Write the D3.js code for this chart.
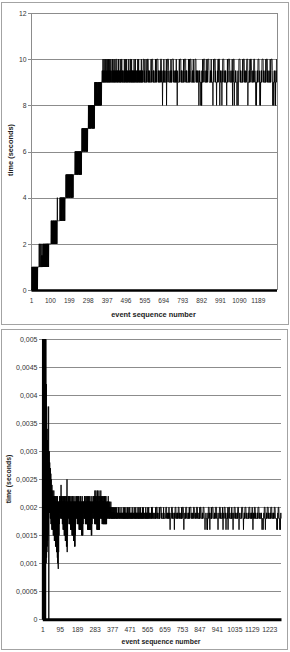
<!DOCTYPE html>
<html><head><meta charset="utf-8">
<script src="https://cdn.jsdelivr.net/npm/d3@7"></script>
<style>body{margin:0;background:#fff}svg{display:block}text{font-family:"Liberation Sans",Arial,sans-serif}</style>
</head><body>
<svg id="c" width="290" height="652"></svg>
<script>
// one character per event; index in CODES = value in units (top: 0.5 s, bottom: 0.0001 s)
const CODES = "0123456789abcdefghijklmnopqrstuvwxyzABCDEFGHIJKLMNOPQRSTUVWXYZ";

const topEventCodes = [
"0000020202","0202120202","0202021202","0202022222","2224222422",
"2342232242","2323424232","4242324242","3424243424","2424444444",
"4444446464","6464546464","6464564646","4646464686","6666666666",
"6686868786","8686878686","8786868688","888a88a8a8","a8a8a9a8a8",
"a8a8a8a9a8","a8a8a8a8aa","a8aaaaaaaa","acacacbcac","acacacacbc",
"acacacacac","acacaccece","cecedecece","cecedecece","cecececeee",
"egegefegeg","egegegegfg","egegegegeg","egegigigig","gigigigigh",
"gigigigigi","gigigigiig","iiijijikij","ijikijijik","ijijkijiji",
"kijijikiji","jikijijiki","iiijijkiji","kijijiijik","ijijikkkij",
"ijijijikij","kiiijijiji","kijijkkiji","jijiiiijik","ijijijkiji",
"ikijijiiij","ijkijijiji","kkijijikij","ijijiijiji","kijijijkij",
"ijiiijijik","ijijkijiji","iijijijiki","jijijiijkk","kkijijikii",
"iiiiijikij","kkkkkijiji","jiiiiiiijk","ijikkkkkji","jijijiiiii",
"iikijkijik","kkkkkkijij","iiiiijijik","kkkkijiiig","iijijikiji",
"iiiiiiijik","gijijkkkkk","kjijiiiiii","ijikijijik","kkkkkkkiji",
"jiiiiiijij","ikijiigiji","iiiiiijkij","kkkkkkijij","ijiiiiiiik",
"ijijkkkkkk","kijijijiii","iiiiikijij","kijikkkkkj","iiiiiijiji",
"kijiiiiiik","kkkkkijiji","iiijijiiig","gijijiiiii","gigigjiiik",
"ijijkkkkkk","kijiiiiiij","ikijijkkkk","kkjiiiiiii","jijikijiii",
"iiigiijkij","kkkkkkijii","iigiiiijij","kijkkkkkig","iiijijiiii",
"gijikkkkkk","kijiiiiiji","jiiiigiiik","ijijkkkkkk","kjijiiiiii",
"iijikigiji","kkkkkgiiii","ijijiiiiig","iiiijgiiik","kkkkkkijij",
"iiiiiiijik","ijkkkkkkij","iiiiijijij","kkkkkkgiii","iiijijikij",
"kkkkkjiiii","iijijijkkk","kkijiiiigi","igiiijijik","kkkkkijiig",
"iigiiijiji","kkkkkkkiji","iiiiiijiji","kijkkkkkki","jijiiiiiii",
"ijikijijkk","kkkkjiigig","iiiijiijig","igiijik"];

const bottomEventCodes = [
"0Z0Z0Z0Z0Z","0Z0Z0Z0Z0Z","LaGbCcydwe","ufsgC0sjuj","sjqiriqhph",
"ngohmgngmf","mfnfmemele","mdldmdlcmc","lbmala9lcl","flhmjljmil",
"joimilimhl","hmglgmglfm","flfmelemel","dmdpclflhm","jlimimhlhm",
"hlglgmglgl","fmflfmflel","emeldldlfl","hmjlimilim","hlhlhmhlgl",
"glgmglgmgl","glflfmflfl","hljlilimil","imhlhlhmhl","hlhmglglgm",
"glglgmglgl","glgmflfkhl","jlimiljmil","imhnhlhmhn","hlhmglgngl",
"gmglgngmgl","ilimjnilim","ilhmilhmhl","hmhlhmhlhm","hlhmhlhkil",
"jlilimjlil","ikilikjkil","ikijikijik","ijikijijik","ijijkijiji",
"kijijiijik","jijkijijii","ijijkijiji","iijijikiji","jikijijiji",
"kijiijijik","ijijijkiji","ikijiijiji","jijikijiji","iijijkijij",
"ijikijijii","jijiikijij","ikijijijki","jijiijijik","ijijkijiji",
"iiijijikij","ijijiijiki","jijkijijii","iiiijijiki","kkkkijijii",
"iiiiiijiji","kijikkkkki","jiiiiiiiji","kijijkkkkk","kjijiiiiii",
"ijikijiiii","iiiijkkkkk","ijijiiiiii","jikijiiigi","iiijijkkkk",
"kijiiiiiij","igijikkkkk","ijiiiiiiji","jikkkkkiji","iiiiiijiji",
"kijikkkkkk","jigiiiiiji","jikkkkkkij","iiiiiiijij","ikijkkkkkk",
"kijiiiiiii","jijikkkkkj","iiiiiijiji","kkkkkkijii","iiiijijiki",
"kkkkkjiiii","iijijikkkk","kjiiiigiii","ijiiiiigig","iijikkkkki",
"jigiiiiiji","kijikkkkkk","jiiiiiiiji","jikkkkkkki","jiiiiigiii",
"ijijkkkkki","jiiiiiiiji","kiigiiijik","kkkkkijiig","iiiiijijik",
"giijkkkkki","jiiiiiiiji","kijiiiigii","ijikkkkkki","jiiiiiiiji",
"jikkkkkiig","iiijiiiiii","ijikkkkkkj","iiigiiijij","ikkkkkkiji",
"iiiiiiiiji","jikkkkkkij","iiiiiijiji","kiiigiiiji","jikkkkkiji",
"iiiiiiijij","ikkkkkkiji","iiiiiiijij","iiigiiiiig","iiijikkkkk",
"igiiiiijij","ikkkkkkiji","iiiiiijiji","kkkkkkijii","iiiiijijik",
"kkkkjiiiii","iiigigiiji","kkkkjiiiig","igiiji"];

const topYTicks = [0, 2, 4, 6, 8, 10, 12];
const topYLabels = ["0", "2", "4", "6", "8", "10", "12"];
const topXTicks = [1, 100, 199, 298, 397, 496, 595, 694, 793, 892, 991, 1090, 1189];

const bottomYTicks = [0, 0.0005, 0.001, 0.0015, 0.002, 0.0025, 0.003, 0.0035, 0.004, 0.0045, 0.005];
const bottomYLabels = ["0", "0,0005", "0,001", "0,0015", "0,002", "0,0025", "0,003", "0,0035", "0,004", "0,0045", "0,005"];
const bottomXTicks = [1, 95, 189, 283, 377, 471, 565, 659, 753, 847, 941, 1035, 1129, 1223];

const xTitle = "event sequence number";
const yTitle = "time (seconds)";

function decode(words, unit) {
  return words.join("").split("").map(c => CODES.indexOf(c) * unit);
}
const topValues = decode(topEventCodes, 0.5);
const bottomValues = decode(bottomEventCodes, 0.0001);

const svg = d3.select("#c");

function panel(cfg) {
  const x = d3.scaleLinear().domain([1, cfg.values.length]).range([cfg.left, cfg.right]);
  const y = d3.scaleLinear().domain([0, cfg.yMax]).range([cfg.bottom, cfg.top]);
  const g = svg.append("g");

  g.append("rect")
    .attr("x", cfg.frame[0]).attr("y", cfg.frame[1])
    .attr("width", cfg.frame[2]).attr("height", cfg.frame[3])
    .attr("fill", "none").attr("stroke", "#a3a3a3").attr("stroke-width", 1);

  g.append("g").selectAll("line").data(cfg.yTicks.filter(v => v > 0)).join("line")
    .attr("x1", cfg.left).attr("x2", cfg.right)
    .attr("y1", d => Math.round(y(d)) + 0.5).attr("y2", d => Math.round(y(d)) + 0.5)
    .attr("stroke", "#8c8c8c").attr("stroke-width", 1).attr("shape-rendering", "crispEdges");

  if (cfg.rightBorder) {
    g.append("line").attr("x1", cfg.right + 0.5).attr("x2", cfg.right + 0.5)
      .attr("y1", cfg.top).attr("y2", cfg.bottom)
      .attr("stroke", "#8c8c8c").attr("shape-rendering", "crispEdges");
  }

  const yAxis = g.append("g").attr("transform", `translate(${cfg.left},0)`)
    .call(d3.axisLeft(y).tickValues(cfg.yTicks).tickFormat((d, i) => cfg.yLabels[i])
      .tickSize(3).tickSizeOuter(0).tickPadding(cfg.yPad));
  yAxis.select(".domain").attr("stroke", "#8c8c8c").attr("shape-rendering", "crispEdges");
  yAxis.selectAll(".tick line").attr("stroke", "#8c8c8c").attr("shape-rendering", "crispEdges");
  yAxis.selectAll("text").attr("font-size", cfg.yFont).attr("fill", "#333")
    .attr("font-family", '"Liberation Sans",Arial,sans-serif');

  const clipId = "clip" + cfg.id;
  svg.append("clipPath").attr("id", clipId).append("rect")
    .attr("x", cfg.left - 2).attr("y", cfg.top).attr("width", cfg.right - cfg.left + 4)
    .attr("height", cfg.bottom - cfg.top + 2);

  const line = d3.line().x((d, i) => x(i + 1)).y(d => y(d));
  g.append("path").datum(cfg.values).attr("d", line)
    .attr("clip-path", `url(#${clipId})`)
    .attr("fill", "none").attr("stroke", "#000").attr("stroke-width", cfg.lineWidth)
    .attr("stroke-linejoin", "bevel");

  const xAxis = g.append("g").attr("transform", `translate(0,${cfg.bottom})`)
    .call(d3.axisBottom(x).tickValues(cfg.xTicks).tickFormat(d => String(d))
      .tickSize(0).tickSizeOuter(0).tickPadding(cfg.xPad));
  xAxis.select(".domain").attr("stroke", "#000").attr("stroke-width", cfg.axisWidth);
  xAxis.selectAll("text").attr("font-size", cfg.xFont).attr("fill", "#333")
    .attr("font-family", '"Liberation Sans",Arial,sans-serif');

  g.append("text").attr("x", cfg.xTitlePos[0]).attr("y", cfg.xTitlePos[1])
    .attr("text-anchor", "middle").attr("font-size", cfg.titleFont).attr("font-weight", "bold")
    .attr("fill", "#222").text(xTitle);
  g.append("text").attr("transform", `translate(${cfg.yTitlePos[0]},${cfg.yTitlePos[1]}) rotate(-90)`)
    .attr("text-anchor", "middle").attr("font-size", cfg.titleFont).attr("font-weight", "bold")
    .attr("fill", "#222").text(yTitle);
}

panel({
  id: "top", values: topValues, yMax: 12,
  left: 31, right: 276.5, top: 13, bottom: 290,
  frame: [1.5, 2.5, 287, 322],
  yTicks: topYTicks, yLabels: topYLabels, xTicks: topXTicks,
  yPad: 1.5, yFont: 6.8, xPad: 8.8, xFont: 6.5, axisWidth: 2.6, lineWidth: 0.85,
  titleFont: 7.4, xTitlePos: [153.5, 316.8], yTitlePos: [12.8, 150],
  rightBorder: true
});

panel({
  id: "bottom", values: bottomValues, yMax: 0.005,
  left: 42.3, right: 281, top: 339.3, bottom: 619.3,
  frame: [1.5, 329.5, 286, 320],
  yTicks: bottomYTicks, yLabels: bottomYLabels, xTicks: bottomXTicks,
  yPad: 1.8, yFont: 7, xPad: 7.6, xFont: 6.8, axisWidth: 3, lineWidth: 0.9,
  titleFont: 6.9, xTitlePos: [161, 643.6], yTitlePos: [11.3, 479],
  rightBorder: false
});
</script>
</body></html>
